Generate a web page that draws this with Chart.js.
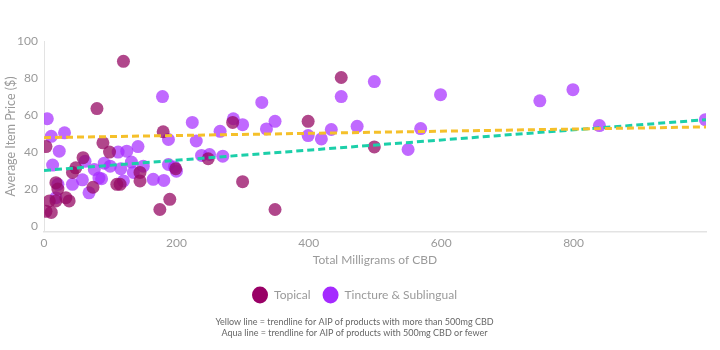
<!DOCTYPE html>
<html>
<head>
<meta charset="utf-8">
<script src="https://cdn.jsdelivr.net/npm/chart.js@4"></script>
<style>
  html, body { margin: 0; padding: 0; background: #fff; }
  #wrap { width: 720px; height: 350px; }
</style>
</head>
<body>
<div id="wrap"><canvas id="chart" width="720" height="350"></canvas></div>
<script>
// [mg of CBD, average item price]
const topical = [
    [3, 43], [89, 45], [99, 40], [59, 37], [48, 31.5], [43, 29], [18, 23.5], [21, 20],
    [74, 21], [8, 13.6], [18, 13.6], [33, 15.4], [38, 13.6], [3, 8], [11, 7.4],
    [120, 89], [80, 63.5], [110, 22.6], [115, 22.6], [145, 29], [145, 24.4],
    [180, 51], [199, 31], [190, 14.5], [175, 9], [248, 36.4], [285, 56],
    [300, 24], [349, 9], [399, 56.6], [449, 80.3], [499, 42.8]
];

const tincture = [
    [5, 58], [11, 48.5], [31, 50.4], [23, 40.5], [13, 33], [62, 35], [76, 30.6],
    [91, 34], [83, 26], [58, 25], [43, 22.6], [21, 22.6], [68, 18], [18, 15.4],
    [112, 40], [125, 40.5], [142, 43], [100, 32.4], [116, 31], [132, 34.6],
    [150, 32.4], [135, 29], [87, 25.6], [120, 24.4], [165, 25.3], [181, 24.7],
    [188, 33.3], [197, 32], [200, 29.7], [179, 70], [188, 46.8], [230, 46],
    [224, 56], [238, 38.2], [250, 38.7], [266, 51.2], [270, 37.8], [286, 58],
    [300, 54.8], [329, 66.8], [336, 52.5], [349, 56.6], [399, 48.9], [419, 47.1],
    [434, 52.2], [449, 70], [473, 53.9], [499, 78.1], [550, 41.4], [569, 52.7],
    [599, 71], [749, 67.7], [799, 73.7], [839, 54.3], [999, 57.5]
];

// trendline end points
const yellowLine = [[0, 47.8], [1000, 53.6]];
const aquaLine = [[0, 30.1], [1000, 57.5]];

const yTicks = [0, 20, 40, 60, 80, 100];

const footnote = [
    "Yellow line = trendline for AIP of products with more than 500mg CBD",
    "Aqua line = trendline for AIP of products with 500mg CBD or fewer"
];

const toXY = arr => arr.map(([x, y]) => ({x, y}));
const grey = "#9a9a9a";
const font = "Lato, 'Open Sans', sans-serif";

new Chart(document.querySelector("#chart"), {
    type: "scatter",
    data: {
        datasets: [
            {
                label: "yellow",
                type: "line",
                data: toXY(yellowLine),
                borderColor: "#f5c02a",
                borderWidth: 3,
                borderDash: [7, 4],
                pointRadius: 0,
                fill: false,
                order: 0
            },
            {
                label: "aqua",
                type: "line",
                data: toXY(aquaLine),
                borderColor: "#1ccfa9",
                borderWidth: 3,
                borderDash: [7, 4],
                pointRadius: 0,
                fill: false,
                order: 0
            },
            {
                label: "Topical",
                data: toXY(topical),
                backgroundColor: "rgba(150, 10, 100, 0.75)",
                borderWidth: 0,
                pointRadius: 6.5,
                pointHoverRadius: 6.5,
                order: 1
            },
            {
                label: "Tincture & Sublingual",
                data: toXY(tincture),
                backgroundColor: "rgba(165, 42, 255, 0.7)",
                borderWidth: 0,
                pointRadius: 6.5,
                pointHoverRadius: 6.5,
                order: 2
            }
        ]
    },
    options: {
        responsive: false,
        animation: false,
        layout: {padding: {left: 3, right: 14, top: 41, bottom: 11.5}},
        scales: {
            x: {
                type: "linear",
                min: 0,
                max: 1000,
                grid: {display: false, drawTicks: false},
                border: {display: true, color: "#e3e3e3", width: 1.5},
                ticks: {
                    stepSize: 200,
                    color: grey,
                    font: {family: font, size: 12},
                    padding: 4,
                    callback: v => v === 1000 ? "" : v
                },
                title: {
                    display: true,
                    text: "Total Milligrams of CBD",
                    color: grey,
                    font: {family: font, size: 12},
                    padding: {top: -1.5, bottom: 10}
                }
            },
            y: {
                min: -3,
                max: 100,
                afterBuildTicks: axis => {
                    axis.ticks = yTicks.map(v => ({value: v}));
                },
                afterFit: axis => {
                    axis.width = 41;
                },
                grid: {display: false, drawTicks: false},
                border: {display: true, color: "#e3e3e3", width: 1},
                ticks: {
                    color: grey,
                    font: {family: font, size: 12},
                    padding: 6
                },
                title: {
                    display: true,
                    text: "Average Item Price ($)",
                    color: grey,
                    font: {family: font, size: 12.5},
                    padding: {top: 0, bottom: 4}
                }
            }
        },
        plugins: {
            legend: {
                position: "bottom",
                labels: {
                    usePointStyle: true,
                    pointStyle: "circle",
                    pointStyleWidth: 16,
                    boxHeight: 16,
                    padding: 12,
                    color: grey,
                    font: {family: font, size: 12},
                    filter: item => item.text === "Topical" || item.text.startsWith("Tincture"),
                    generateLabels: chart => {
                        const solid = {"Topical": "#990066", "Tincture & Sublingual": "#a52aff"};
                        return Chart.defaults.plugins.legend.labels.generateLabels(chart).map(l => {
                            if (solid[l.text]) {
                                l.fillStyle = solid[l.text];
                                l.strokeStyle = solid[l.text];
                            }
                            l.lineWidth = 0;
                            return l;
                        });
                    }
                }
            },
            title: {
                display: true,
                position: "bottom",
                text: footnote,
                color: "#666",
                font: {family: font, size: 9, weight: "normal", lineHeight: 1.25},
                padding: {top: 5, bottom: 0}
            },
            tooltip: {enabled: false}
        }
    }
});
</script>
</body>
</html>
